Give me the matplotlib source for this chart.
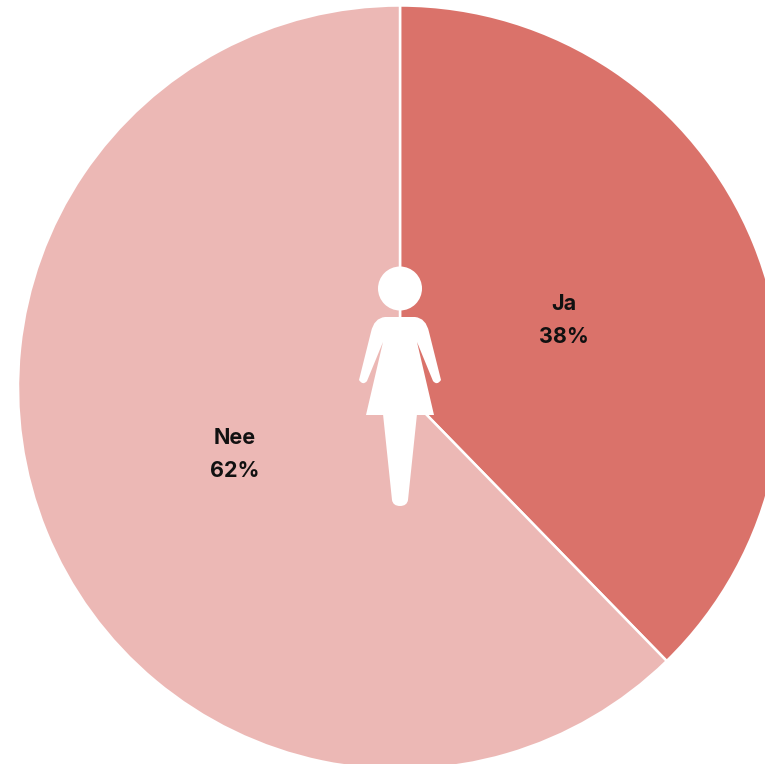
import matplotlib
matplotlib.use('Agg')
import matplotlib.pyplot as plt
from matplotlib.patches import Circle, PathPatch, Wedge
from matplotlib.path import Path

labels = ['Ja', 'Nee']
values = [37.7, 62.3]
value_labels = ['38%', '62%']
colors = ['#da726a', '#ecb8b5']

plt.rcParams['font.family'] = ['Inter', 'DejaVu Sans']

fig = plt.figure(figsize=(7.65, 7.64), dpi=100)
ax = fig.add_axes([0, 0, 1, 1])
ax.set_xlim(0, 765)
ax.set_ylim(764, 0)
ax.axis('off')

# pie, clockwise from the top
cx, cy, r = 400, 387.5, 382
start = -90
for value, color in zip(values, colors):
    end = start + value * 3.6
    ax.add_patch(Wedge((cx, cy), r, start, end, facecolor=color, edgecolor='white', linewidth=1.8))
    start = end

# labels, one text per line
label_pos = [(564, 304), (235, 438)]
for (x, y), label, value_label in zip(label_pos, labels, value_labels):
    ax.text(x, y, label, ha='center', va='center', fontsize=15.5, fontweight='bold', color='#111111')
    ax.text(x, y + 33, value_label, ha='center', va='center', fontsize=15.5, fontweight='bold', color='#111111')

# woman icon
ax.add_patch(Circle((400, 288.5), 22, facecolor='white', edgecolor='none', zorder=3))

L, C, Q = Path.LINETO, Path.CURVE3, Path.MOVETO
body = [
    ((385, 317), Q), ((415, 317), L), ((426, 318), C), ((429, 332), C),
    ((441, 380), L), ((437, 386), C), ((433, 381), C), ((417, 342), L),
    ((434, 415), L), ((366, 415), L), ((383, 342), L), ((367, 381), L),
    ((363, 386), C), ((359, 380), C), ((371, 332), L), ((374, 318), C),
    ((385, 317), C), ((385, 317), Path.CLOSEPOLY),
]
ax.add_patch(PathPatch(Path([p for p, _ in body], [c for _, c in body]), facecolor='white', edgecolor='none', zorder=3))

leg = [
    ((383, 414), Q), ((417, 414), L), ((408, 500), L), ((407, 506), C), ((400, 506), C),
    ((393, 506), C), ((392, 500), C), ((383, 414), L), ((383, 414), Path.CLOSEPOLY),
]
ax.add_patch(PathPatch(Path([p for p, _ in leg], [c for _, c in leg]), facecolor='white', edgecolor='none', zorder=3))

fig.savefig('out.png', dpi=100)
